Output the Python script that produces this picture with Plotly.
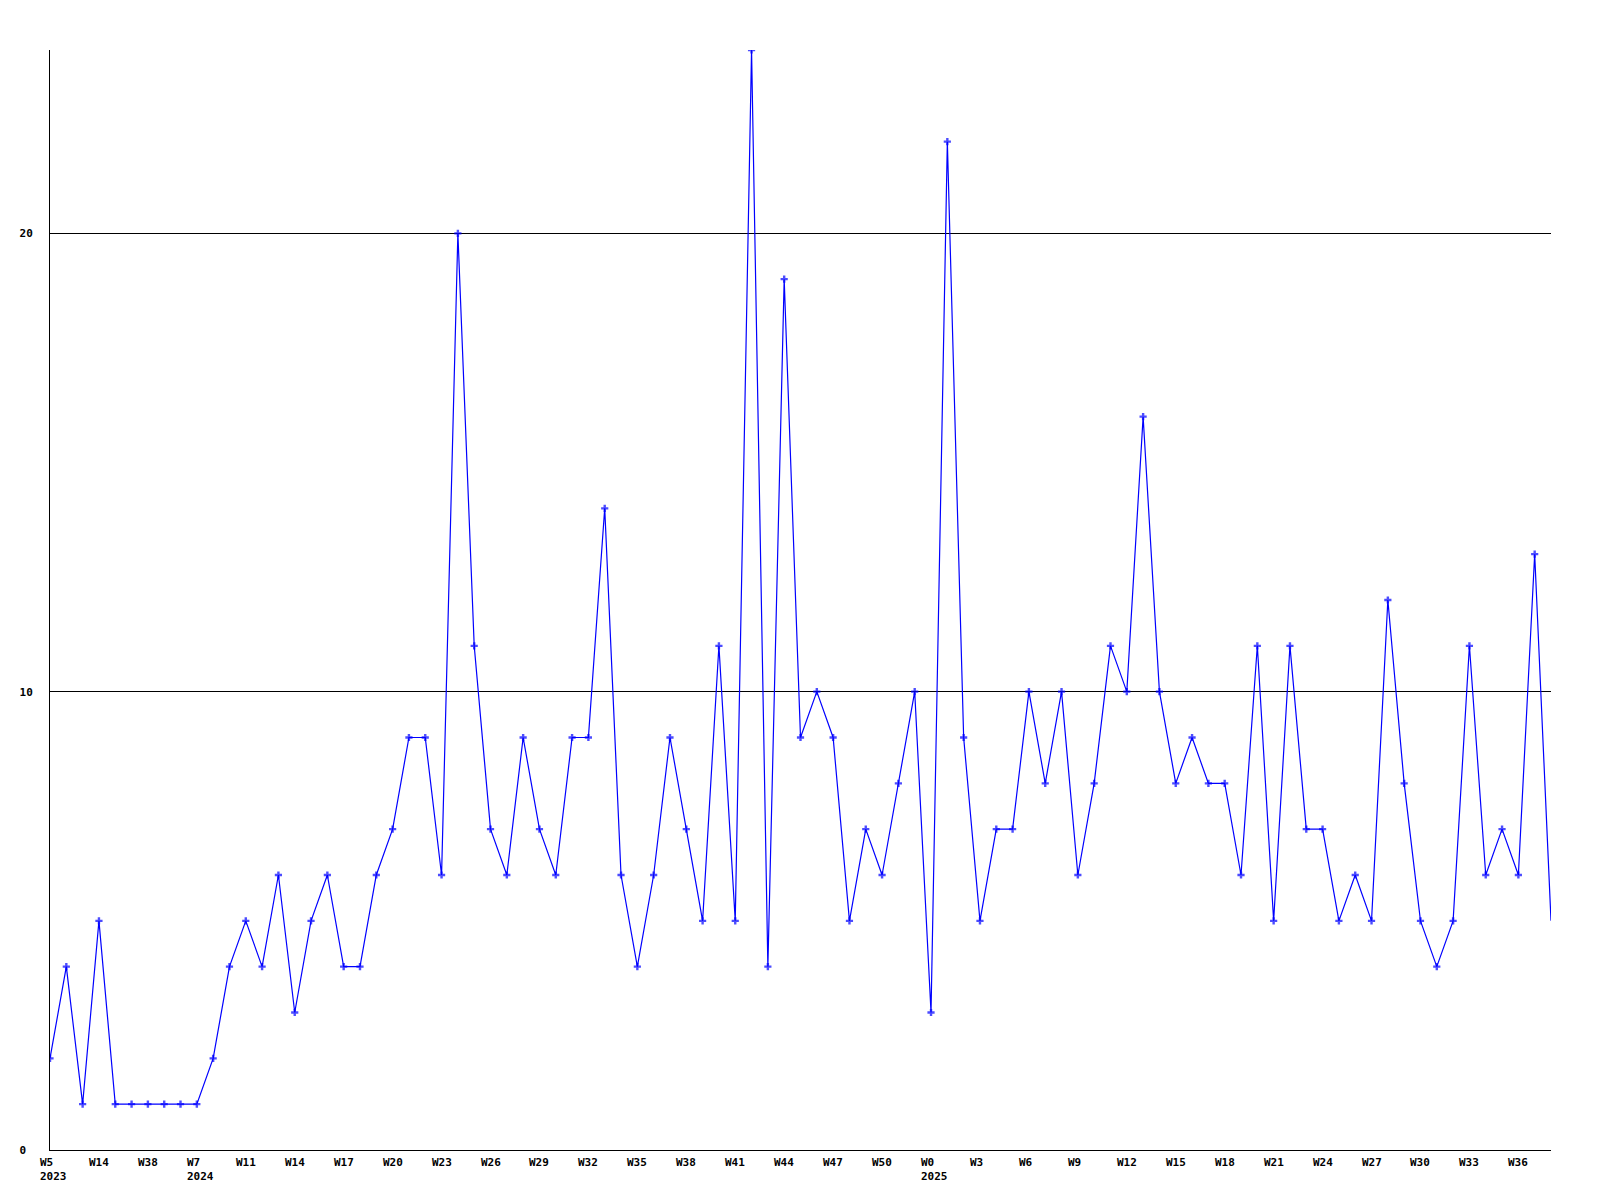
import plotly.graph_objects as go

values = [2, 4, 1, 5, 1, 1, 1, 1, 1, 1,
          2, 4, 5, 4, 6, 3, 5, 6, 4, 4,
          6, 7, 9, 9, 6, 20, 11, 7, 6, 9,
          7, 6, 9, 9, 14, 6, 4, 6, 9, 7,
          5, 11, 5, 24, 4, 19, 9, 10, 9, 5,
          7, 6, 8, 10, 3, 22, 9, 5, 7, 7,
          10, 8, 10, 6, 8, 11, 10, 16, 10, 8,
          9, 8, 8, 6, 11, 5, 11, 7, 7, 5,
          6, 5, 12, 8, 5, 4, 5, 11, 6, 7,
          6, 13, 5]

tick_index = [0, 3, 6, 9, 12, 15, 18, 21, 24, 27, 30, 33, 36, 39, 42, 45,
              48, 51, 54, 57, 60, 63, 66, 69, 72, 75, 78, 81, 84, 87, 90]
tick_labels = ["W5<br>2023", "W14", "W38", "W7<br>2024", "W11", "W14", "W17",
               "W20", "W23", "W26", "W29", "W32", "W35", "W38", "W41", "W44",
               "W47", "W50", "W0<br>2025", "W3", "W6", "W9", "W12", "W15",
               "W18", "W21", "W24", "W27", "W30", "W33", "W36"]

y_ticks = [0, 10, 20]

x = list(range(len(values)))
marker_sizes = [6] * (len(values) - 1) + [0]

font = dict(family="DejaVu Sans Mono", size=11, color="black")

fig = go.Figure()
fig.add_trace(go.Scatter(
    x=x, y=values, mode="lines+markers",
    line=dict(color="#0000ff", width=1.2),
    marker=dict(symbol="cross", size=marker_sizes, color="#0000ff",
                line=dict(width=0)),
    showlegend=False, hoverinfo="x+y",
))

annotations = []
for i, lab in zip(tick_index, tick_labels):
    annotations.append(dict(
        x=i, y=0, xref="x", yref="paper",
        text="<b>" + lab + "</b>", showarrow=False,
        xanchor="left", yanchor="top", align="left",
        xshift=-12, yshift=-4, font=font,
    ))

fig.update_layout(
    width=1600, height=1200,
    margin=dict(l=42, r=57, t=42, b=58),
    paper_bgcolor="white", plot_bgcolor="white",
    annotations=annotations,
    xaxis=dict(range=[0, len(values) - 1], showgrid=False, zeroline=False,
               showticklabels=False, showline=True, linecolor="black",
               linewidth=1, ticks=""),
    yaxis=dict(range=[0, 24], tickvals=y_ticks,
               ticktext=["<b>" + str(v).ljust(2, "\u00a0") + "</b>" for v in y_ticks],
               showgrid=True, gridcolor="black", gridwidth=1,
               zeroline=False, showline=True, linecolor="black", linewidth=1,
               ticks="", tickfont=font, ticklabelstandoff=14),
)

fig.write_html("out.html")
